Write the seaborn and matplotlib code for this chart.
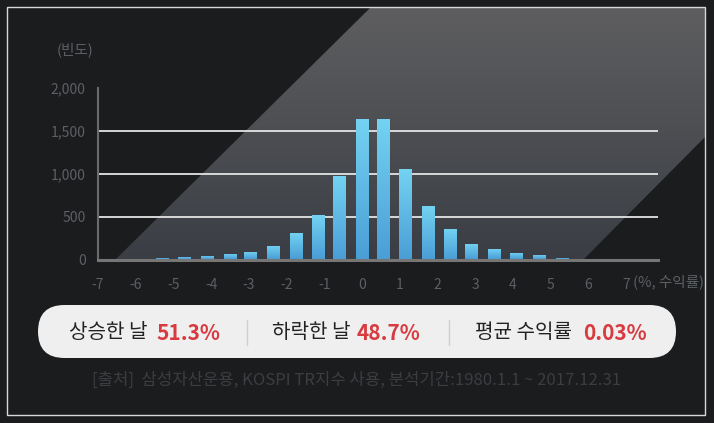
import numpy as np
import pandas as pd
import matplotlib
matplotlib.use("Agg")
import matplotlib.pyplot as plt
import seaborn as sns
from matplotlib.patches import Polygon, FancyBboxPatch, Rectangle

# ---------------- data ----------------
bin_centers = [-5.3, -4.7, -4.1, -3.5, -2.95, -2.35, -1.75, -1.15, -0.6, 0.0,
               0.57, 1.15, 1.75, 2.35, 2.9, 3.5, 4.1, 4.7, 5.3]
frequency = [18, 30, 42, 65, 85, 160, 305, 520, 975, 1640,
             1640, 1060, 620, 355, 180, 120, 75, 50, 15]
x_ticks = [-7, -6, -5, -4, -3, -2, -1, 0, 1, 2, 3, 4, 5, 6, 7]
y_ticks = [0, 500, 1000, 1500, 2000]
y_tick_labels = ["0", "500", "1,000", "1,500", "2,000"]
y_label = "(빈도)"
x_unit_label = "(%, 수익률)"
summary_labels = ["상승한 날", "하락한 날", "평균 수익률"]
summary_values = ["51.3%", "48.7%", "0.03%"]
source_text = "[출처]  삼성자산운용, KOSPI TR지수 사용, 분석기간:1980.1.1 ~ 2017.12.31"

df = pd.DataFrame({"ret": bin_centers, "freq": frequency})

# ---------------- style ----------------
sns.set_theme(style="dark")
plt.rcParams["font.family"] = ["Noto Sans CJK KR", "DejaVu Sans"]

BG = "#1b1c1e"
W, H = 714, 423
fig = plt.figure(figsize=(W / 100, H / 100), dpi=100, facecolor=BG)

# background / decoration axes in pixel coordinates
bg = fig.add_axes([0, 0, 1, 1], zorder=0)
bg.set_xlim(0, W)
bg.set_ylim(H, 0)
bg.axis("off")
bg.set_facecolor(BG)
bg.add_patch(Rectangle((0, 0), W, H, facecolor=BG, edgecolor="none", zorder=0))

# diagonal grey band with vertical gradient
band = Polygon([(115, 260), (371, 7), (705, 7), (705, 137), (583, 260)],
               closed=True, facecolor="none", edgecolor="none")
bg.add_patch(band)
grad = np.linspace(0, 1, 256).reshape(-1, 1)
top_c = np.array([0x5e, 0x5e, 0x60]) / 255
bot_c = np.array([0x3a, 0x3e, 0x44]) / 255
img = top_c[None, None, :] * (1 - grad[:, :, None]) + bot_c[None, None, :] * grad[:, :, None]
im = bg.imshow(img, extent=(115, 705, 260, 7), aspect="auto", zorder=1,
               interpolation="bilinear")
im.set_clip_path(band)

# frame border
bg.add_patch(Rectangle((7, 7), 698, 408, facecolor="none", edgecolor="#d8d8d8",
                       linewidth=1.0, zorder=5))

# ---------------- main chart ----------------
ax = fig.add_axes([98 / W, 1 - 259.5 / H, (658 - 98) / W, (259.5 - 88) / H], zorder=2)
ax.set_facecolor("none")

min_gap = np.min(np.diff(bin_centers))
sns.barplot(data=df, x="ret", y="freq", native_scale=True, ax=ax,
            width=0.335 / min_gap, color="#5bb8e6", saturation=1, zorder=3)

# gradient fill for bars
bar_top = np.array([0x74, 0xd3, 0xf2]) / 255
bar_bot = np.array([0x4a, 0x9e, 0xd6]) / 255
g = np.linspace(0, 1, 128).reshape(-1, 1)
bar_img = bar_bot[None, None, :] * (1 - g[:, :, None]) + bar_top[None, None, :] * g[:, :, None]
for p in list(ax.patches):
    x0, y0 = p.get_x(), p.get_y()
    w, h = p.get_width(), p.get_height()
    p.set_facecolor("none")
    p.set_edgecolor("none")
    bim = ax.imshow(bar_img, extent=(x0, x0 + w, y0, y0 + h), origin="lower",
                    aspect="auto", zorder=3, interpolation="bilinear")
    bim.set_clip_path(p)

ax.set_xlim(-7, 7 + 32 / 37.71)
ax.set_ylim(0, 2000)
ax.set_xticks(x_ticks)
ax.set_xticklabels([str(t) for t in x_ticks])
ax.set_yticks(y_ticks)
ax.set_yticklabels(y_tick_labels)
ax.set_xlabel("")
ax.set_ylabel("")

tick_col = "#5c5f64"
ax.tick_params(axis="both", length=0, labelsize=10, colors=tick_col)
ax.tick_params(axis="x", pad=13)
ax.tick_params(axis="y", pad=9)

ax.grid(axis="y", color="#e4e4e4", linewidth=1.3, zorder=2)
ax.grid(axis="x", visible=False)
ax.set_axisbelow(True)
ygl = ax.get_ygridlines()
ygl[0].set_visible(False)
ygl[-1].set_visible(False)

for s in ["top", "right"]:
    ax.spines[s].set_visible(False)
ax.spines["left"].set_color("#6a6a6a")
ax.spines["left"].set_linewidth(1.5)
ax.spines["bottom"].set_color("#767676")
ax.spines["bottom"].set_linewidth(2.2)
ax.spines["left"].set_zorder(4)
ax.spines["bottom"].set_zorder(4)

# axis annotation texts
bg.text(75, 50, y_label, ha="center", va="center", fontsize=10.5, color=tick_col, zorder=6)
bg.text(633, 282, x_unit_label, ha="left", va="center", fontsize=10.5, color=tick_col, zorder=6)

# ---------------- summary pill ----------------
pill = FancyBboxPatch((38, 305), 638, 53, boxstyle="round,pad=0,rounding_size=26.5",
                      mutation_aspect=1, facecolor="#efefef", edgecolor="none", zorder=6)
bg.add_patch(pill)
label_x = [69, 272, 475]
value_x = [156, 357, 583]
for lx, vx, lab, val in zip(label_x, value_x, summary_labels, summary_values):
    bg.text(lx, 333, lab, ha="left", va="center", fontsize=14.5, color="#222222", zorder=7)
    bg.text(vx, 333, val, ha="left", va="center", fontsize=15, color="#d83a3f",
            fontweight="bold", zorder=7)
for sx in [247, 449]:
    bg.plot([sx, sx], [320, 345], color="#cfcfcf", linewidth=1, zorder=7)

# source
bg.text(356.5, 380, source_text, ha="center", va="center", fontsize=12,
        color="#3c3d40", zorder=6)

fig.savefig("out.png", dpi=100, facecolor=BG)
